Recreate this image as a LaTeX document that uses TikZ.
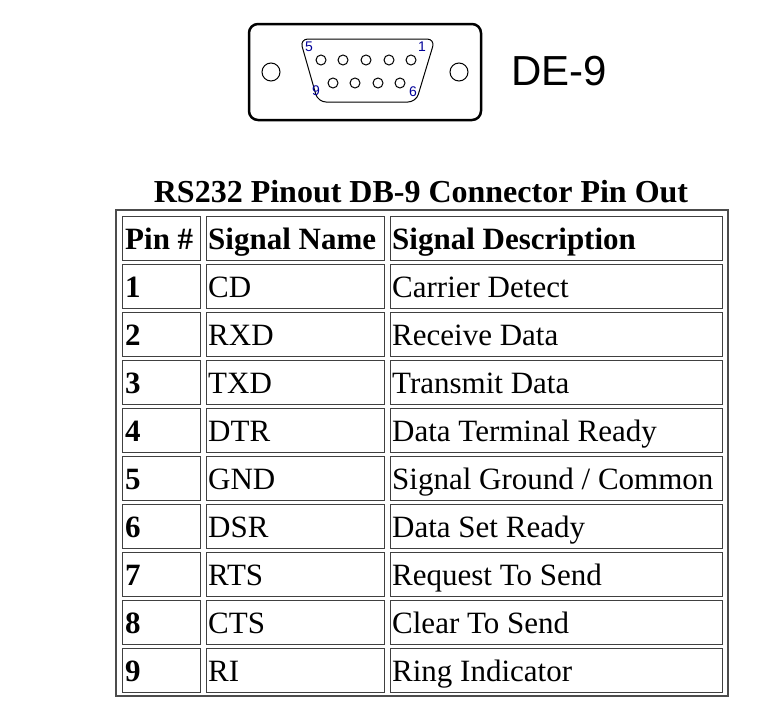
\documentclass[tikz,border=0pt]{standalone}
\usepackage{fontspec}
\setmainfont{Liberation Serif}
\newfontfamily\arialf{Liberation Sans}
\begin{document}
\begin{tikzpicture}[x=1pt,y=-1pt,
  cellbox/.style={draw=black!75,line width=1.2pt,fill=white,inner sep=0pt,anchor=north west},
  celltxt/.style={anchor=base west,font=\fontsize{31}{31}\selectfont,inner sep=0pt},
  hdrtxt/.style={anchor=base west,font=\bfseries\fontsize{31}{31}\selectfont,inner sep=0pt},
  pin/.style={draw,circle,line width=1pt,minimum size=10pt,inner sep=0pt},
  pinlbl/.style={text=blue!60!black,font=\arialf\fontsize{14}{14}\selectfont,inner sep=0pt}]
\useasboundingbox[fill=white] (0,0) rectangle (764,728);
% connector
\draw[line width=2.5pt,rounded corners=9pt] (249,24) rectangle (481,120);
\node[draw,circle,line width=1pt,minimum size=18pt,inner sep=0pt] (h1) at (271,72) {};
\node[draw,circle,line width=1pt,minimum size=18pt,inner sep=0pt] (h2) at (459,72) {};
\draw[line width=1pt,rounded corners=8pt] (300,39) -- (435,39) -- (416,102) -- (318,102) -- cycle;
\foreach \i/\x in {5/321,4/343,3/366,2/389,1/411}{\node[pin] (p\i) at (\x,60) {};}
\foreach \i/\x in {9/333,8/355,7/378,6/400}{\node[pin] (p\i) at (\x,83) {};}
\node[pinlbl] (l5) at (309,47) {5};
\node[pinlbl] (l1) at (422,47) {1};
\node[pinlbl] (l9) at (316,91) {9};
\node[pinlbl] (l6) at (413,92) {6};
\node[anchor=west,inner sep=0pt,font=\arialf\fontsize{42}{42}\selectfont] (de) at (511,71) {DE-9};
% title
\node[font=\bfseries\fontsize{32}{32}\selectfont,inner sep=0pt] (title) at (421,192) {RS232 Pinout DB-9 Connector Pin Out};
% table
\draw[black!70,line width=1.2pt] (116,210) rectangle (728,696);
\foreach \r/\a/\b [count=\k from 0] in {{Pin \#}/{Signal Name}/{Signal Description},1/CD/{Carrier Detect},2/RXD/{Receive Data},3/TXD/{Transmit Data},4/DTR/{Data Terminal Ready},5/GND/{Signal Ground / Common},6/DSR/{Data Set Ready},7/RTS/{Request To Send},8/CTS/{Clear To Send},9/RI/{Ring Indicator}}{
  \pgfmathsetmacro\yy{216+48*\k}
  \pgfmathsetmacro\yb{216+48*\k+33}
  \node[cellbox,minimum width=78pt,minimum height=44pt] (c1-\k) at (122,\yy) {};
  \node[cellbox,minimum width=178pt,minimum height=44pt] (c2-\k) at (206,\yy) {};
  \node[cellbox,minimum width=332pt,minimum height=44pt] (c3-\k) at (390,\yy) {};
  \ifnum\k=0
    \node[hdrtxt] (t1-\k) at (125,\yb) {\r};
    \node[hdrtxt] (t2-\k) at (208,\yb) {\a};
    \node[hdrtxt] (t3-\k) at (392,\yb) {\b};
  \else
    \node[hdrtxt] (t1-\k) at (125,\yb) {\r};
    \node[celltxt] (t2-\k) at (208,\yb) {\a};
    \node[celltxt] (t3-\k) at (392,\yb) {\b};
  \fi
}
\end{tikzpicture}
\end{document}
